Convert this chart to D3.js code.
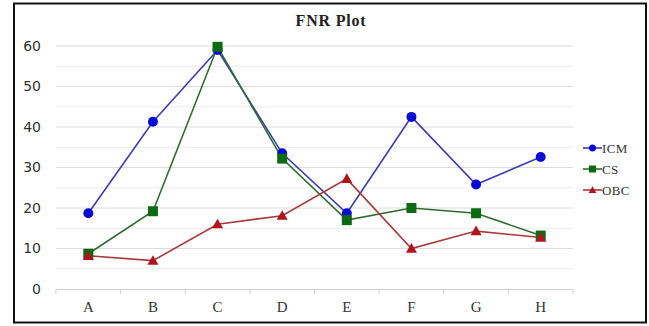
<!DOCTYPE html>
<html>
<head>
<meta charset="utf-8">
<script src="https://cdn.jsdelivr.net/npm/d3@7/dist/d3.min.js"></script>
<style>
  html, body { margin: 0; padding: 0; background: #fff; }
  svg { display: block; }
</style>
</head>
<body>
<script>
// FNR values per category for each method
const categories = ["A", "B", "C", "D", "E", "F", "G", "H"];
const icm = [18.7, 41.3, 59.0, 33.5, 18.7, 42.5, 25.8, 32.6];
const cs  = [8.7, 19.2, 59.8, 32.2, 17.0, 20.0, 18.7, 13.2];
const obc = [8.2, 7.0, 16.0, 18.1, 27.2, 10.0, 14.3, 12.7];
const yTicks = [0, 10, 20, 30, 40, 50, 60];
const gridValues = [5, 10, 15, 20, 25, 30, 35, 40, 45, 50, 55, 60];

const series = [
  { name: "ICM", values: icm, color: "#0a0ad6", line: "#3b3bb8", shape: "circle" },
  { name: "CS",  values: cs,  color: "#0c6a12", line: "#2f6e2f", shape: "square" },
  { name: "OBC", values: obc, color: "#b0141c", line: "#a83a3a", shape: "triangle" }
];

const W = 649, H = 326;
const plot = { left: 56, right: 573, top: 46, bottom: 289 };

const svg = d3.select("body").append("svg").attr("width", W).attr("height", H);

// chart frame
svg.append("rect")
  .attr("x", 14).attr("y", 3.5).attr("width", 632).attr("height", 319)
  .attr("fill", "#fff").attr("stroke", "#111").attr("stroke-width", 2);

const x = d3.scaleBand().domain(categories).range([plot.left, plot.right]);
const y = d3.scaleLinear().domain([0, 60]).range([plot.bottom, plot.top]);

// gridlines
svg.append("g").selectAll("line").data(gridValues).join("line")
  .attr("x1", plot.left).attr("x2", plot.right)
  .attr("y1", d => y(d)).attr("y2", d => y(d))
  .attr("stroke", d => d % 10 === 0 ? "#dcdcdc" : "#ececec")
  .attr("stroke-width", 1);

// category axis
const xAxis = svg.append("g")
  .attr("transform", `translate(0,${plot.bottom})`)
  .call(d3.axisBottom(x).tickSize(0).tickPadding(12));
xAxis.select(".domain").attr("stroke", "#cfcfcf");
xAxis.selectAll("text")
  .attr("font-family", "Liberation Serif, serif")
  .attr("font-size", 15).attr("fill", "#333");
// tick marks at category boundaries
xAxis.append("g").selectAll("line")
  .data(d3.range(categories.length + 1))
  .join("line")
  .attr("x1", i => plot.left + i * x.step()).attr("x2", i => plot.left + i * x.step())
  .attr("y1", 0).attr("y2", 5)
  .attr("stroke", "#cfcfcf");

// value axis
const yAxis = svg.append("g")
  .attr("transform", `translate(${plot.left},0)`)
  .call(d3.axisLeft(y).tickValues(yTicks).tickSize(0).tickPadding(15));
yAxis.select(".domain").remove();
yAxis.selectAll("text")
  .attr("font-family", "DejaVu Sans, sans-serif")
  .attr("font-size", 14).attr("fill", "#333");

// title
svg.append("text")
  .attr("x", 331).attr("y", 26)
  .attr("text-anchor", "middle")
  .attr("font-family", "Liberation Serif, serif")
  .attr("font-weight", "bold").attr("font-size", 16)
  .attr("letter-spacing", 0.8)
  .attr("fill", "#222")
  .text("FNR Plot");

const lineGen = d3.line()
  .x((d, i) => x(categories[i]) + x.bandwidth() / 2)
  .y(d => y(d));

function marker(g, shape, color, size) {
  if (shape === "circle") {
    g.append("circle").attr("r", size * 0.5).attr("fill", color);
  } else if (shape === "square") {
    g.append("rect").attr("x", -size / 2).attr("y", -size / 2)
      .attr("width", size).attr("height", size).attr("fill", color);
  } else {
    const s = size * 0.55;
    g.append("path").attr("d", `M0,${-s}L${s},${s * 0.75}L${-s},${s * 0.75}Z`).attr("fill", color);
  }
}

series.forEach(s => {
  svg.append("path")
    .datum(s.values)
    .attr("d", lineGen)
    .attr("fill", "none")
    .attr("stroke", s.line)
    .attr("stroke-width", 1.6);
});
series.forEach(s => {
  s.values.forEach((v, i) => {
    const g = svg.append("g")
      .attr("transform", `translate(${x(categories[i]) + x.bandwidth() / 2},${y(v)})`);
    marker(g, s.shape, s.color, 10);
  });
});

// legend
const legend = svg.append("g").attr("transform", "translate(583,148)");
series.forEach((s, i) => {
  const g = legend.append("g").attr("transform", `translate(0,${i * 21})`);
  g.append("line").attr("x1", 0).attr("x2", 19).attr("y1", 0).attr("y2", 0)
    .attr("stroke", s.line).attr("stroke-width", 1.6);
  const m = g.append("g").attr("transform", "translate(9.5,0)");
  marker(m, s.shape, s.color, 7);
  g.append("text").attr("x", 19).attr("y", 4.5)
    .attr("font-family", "Liberation Serif, serif")
    .attr("font-size", 13).attr("letter-spacing", 0.4).attr("fill", "#333")
    .text(s.name);
});
</script>
</body>
</html>
